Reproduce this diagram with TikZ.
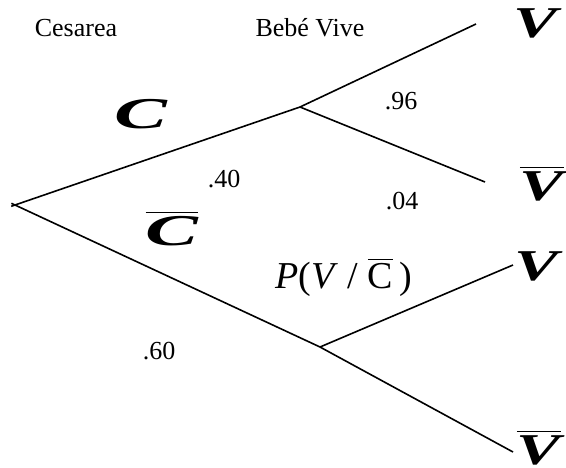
\documentclass[tikz,border=0pt]{standalone}
\usepackage{amsmath}
\usepackage{fontspec}
\setmainfont{Liberation Serif}
\usepackage{tikz}
\usetikzlibrary{positioning}

\tikzset{
  branch/.style={line width=1.6pt},
  lbl/.style={anchor=base, inner sep=0pt, font=\fontsize{26}{30}\selectfont},
  cond/.style={anchor=base, inner sep=0pt, font=\fontsize{38}{42}\selectfont},
  event/.style={anchor=base, inner sep=0pt, text depth=0pt, font=\fontsize{44}{48}\selectfont\bfseries\itshape}
}
\newcommand{\wideV}{\scalebox{1.5}[1]{V}}
\newcommand{\wideC}{\scalebox{1.8}[1]{C}}

\begin{document}
\begin{tikzpicture}[x=1pt, y=-1pt]
    \useasboundingbox (0,0) rectangle (566,467);

    % Branch points and leaf ends
    \coordinate (root) at (15,205);
    \coordinate (nodeC) at (300,107);
    \coordinate (nodeCb) at (320,347);
    \coordinate (endCV) at (476,24);
    \coordinate (endCVb) at (485,182);
    \coordinate (endCbV) at (513,265);
    \coordinate (endCbVb) at (513,452);

    % Branches
    \draw[branch, shorten <=-4pt] (root) -- (nodeC);
    \draw[branch, shorten <=-4pt] (root) -- (nodeCb);
    \draw[branch] (nodeC) -- (endCV);
    \draw[branch] (nodeC) -- (endCVb);
    \draw[branch] (nodeCb) -- (endCbV);
    \draw[branch] (nodeCb) -- (endCbVb);

    % Headings
    \node[lbl] (hdCes) at (76,36) {Cesarea};
    \node[lbl] (hdViv) at (310,36) {Bebé Vive};

    % First stage
    \node[event] (lblC) at (141,128) {\wideC};
    \node[event] (lblCb) at (172,245) {$\overline{\hbox{\wideC}}$};
    \node[lbl] (pC) at (224,187) {.40};
    \node[lbl] (pCb) at (159,359) {.60};

    % Second stage
    \node[lbl] (pCV) at (401,109) {.96};
    \node[lbl] (pCVb) at (402,209) {.04};
    \node[cond] (pCbV) at (344,288) {\textit{P}(\textit{V} / $\overline{\hbox{C}}$\,)};

    % Outcomes
    \node[event] (outCV) at (536,37) {\wideV};
    \node[event] (outCVb) at (542,200) {$\overline{\hbox{\wideV}}$};
    \node[event] (outCbV) at (537,280) {\wideV};
    \node[event] (outCbVb) at (539,464) {$\overline{\hbox{\wideV}}$};
\end{tikzpicture}
\end{document}
